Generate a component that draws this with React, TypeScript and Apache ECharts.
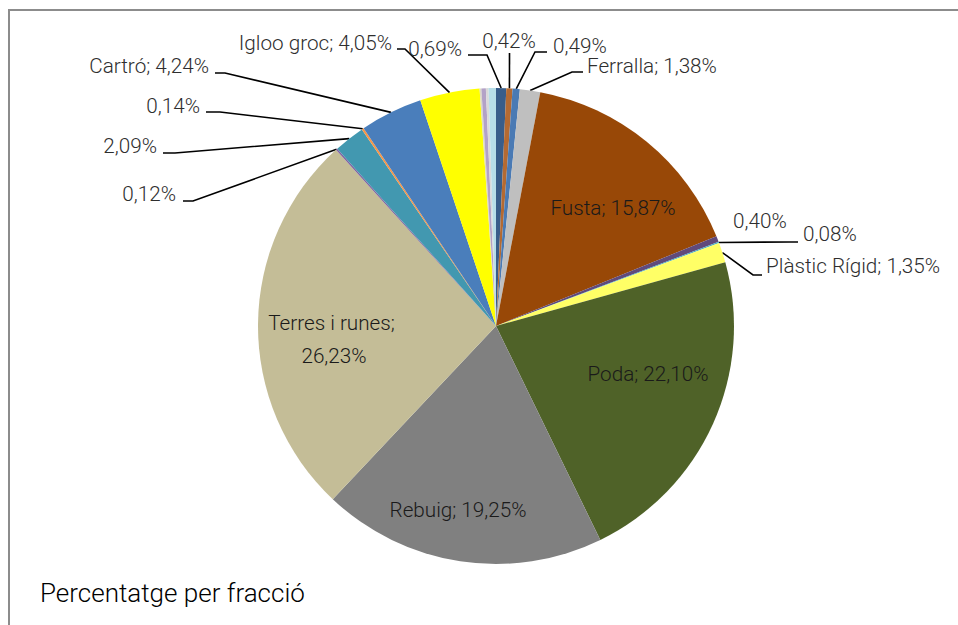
import React, { useEffect, useRef } from "react";
import * as echarts from "echarts";

// Slices, clockwise from 12 o'clock
const sliceNames = [
  "", "", "", "Ferralla", "Fusta", "", "", "Plàstic Rígid", "Poda", "Rebuig",
  "Terres i runes", "", "", "", "Cartró", "Igloo groc", "", "", "", "",
];
const sliceValues = [
  0.69, 0.42, 0.49, 1.38, 15.87, 0.4, 0.08, 1.35, 22.1, 19.25,
  26.23, 0.12, 2.09, 0.14, 4.24, 4.05, 0.12, 0.3, 0.18, 0.5,
];
const sliceColors = [
  "#385D8A", "#B46A32", "#4A7AB4", "#BFBFBF", "#984807", "#604A7B", "#4BACC6", "#FFFF66", "#4F6228", "#808080",
  "#C4BD97", "#8064A2", "#4298B0", "#F79646", "#4A7EBB", "#FFFF00", "#DDD9C3", "#B3A2C7", "#D9D9D9", "#B7DEE8",
];

const titleText = "Percentatge per fracció";

// Label layout (pixel positions of label anchors; line = [labelSideX, lineY, elbowX])
type Place = { x: number; y: number; align: "left" | "right" | "center"; inside?: boolean; line?: [number, number, number] };
const labelPlace: (Place | null)[] = [
  { x: 462, y: 49, align: "right", line: [468, 55, 487] },
  { x: 509, y: 41, align: "center", line: [509.5, 53, 509.5] },
  { x: 553, y: 46, align: "left", line: [547, 52, 535] },
  { x: 587, y: 66, align: "left", line: [583, 72, 572] },
  { x: 613, y: 208, align: "center", inside: true },
  { x: 733, y: 221, align: "left" },
  { x: 803, y: 234, align: "left", line: [798, 242, 790] },
  { x: 766, y: 266, align: "left", line: [762, 275, 753] },
  { x: 648, y: 374, align: "center", inside: true },
  { x: 458, y: 510, align: "center", inside: true },
  { x: 334, y: 339, align: "center", inside: true },
  { x: 176, y: 194, align: "right", line: [183, 201, 193] },
  { x: 157, y: 146, align: "right", line: [163, 153, 175] },
  { x: 200, y: 106, align: "right", line: [206, 112, 220] },
  { x: 209, y: 66, align: "right", line: [215, 73, 225] },
  { x: 392, y: 43, align: "right", line: [397, 49, 405] },
  null, null, null, null,
];

const FONT = "Roboto, 'Liberation Sans', sans-serif";

const fmt = (v: number) => v.toFixed(2).replace(".", ",") + "%";

export default function App() {
  const ref = useRef<HTMLDivElement>(null);
  useEffect(() => {
    if (!ref.current) return;
    const chart = echarts.init(ref.current, undefined, { renderer: "svg" });
    const data = sliceValues.map((v, i) => {
      const p = labelPlace[i];
      return {
        name: sliceNames[i],
        value: v,
        itemStyle: { color: sliceColors[i] },
        label: {
          show: !!p,
          position: p && p.inside ? "inside" : "outside",
          color: p && p.inside ? "#1a1a1a" : "#2e2e2e",
          ...(sliceNames[i] === "Terres i runes"
            ? { width: 145, overflow: "break", lineHeight: 33, align: "center" }
            : {}),
        },
        labelLine: { show: !!(p && p.line) },
      };
    });
    chart.setOption({
      animation: false,
      backgroundColor: "#ffffff",
      title: {
        text: titleText,
        left: 35,
        top: 573,
        textStyle: { fontFamily: FONT, fontSize: 26, fontWeight: 300, color: "#000000", lineHeight: 30 },
      },
      graphic: [
        {
          type: "rect",
          shape: { x: 9, y: 10, width: 1000, height: 700 },
          style: { fill: "none", stroke: "#8C8C8C", lineWidth: 2 },
          silent: true,
        },
      ],
      series: [
        {
          type: "pie",
          center: [496, 326],
          radius: 238,
          startAngle: 90,
          clockwise: true,
          avoidLabelOverlap: false,
          itemStyle: { borderWidth: 0 },
          label: {
            fontFamily: FONT,
            fontSize: 20.7,
            fontWeight: 300,
            formatter: (pr: any) => (pr.name ? `${pr.name}; ${fmt(pr.value)}` : fmt(pr.value)),
          },
          labelLine: {
            lineStyle: { color: "#000000", width: 1.6 },
            length: 10,
            length2: 10,
          },
          labelLayout: (params: any) => {
            const p = labelPlace[params.dataIndex];
            if (!p) return {};
            const res: any = { x: p.x, y: p.y, align: p.align, verticalAlign: "middle" };
            if (p.line && params.labelLinePoints) {
              const edge = params.labelLinePoints[0];
              res.labelLinePoints = [
                [edge[0], edge[1]],
                [p.line[2], p.line[1]],
                [p.line[0], p.line[1]],
              ];
            }
            return res;
          },
          data,
        },
      ],
    });
    return () => chart.dispose();
  }, []);
  return (
    <div
      ref={ref}
      style={{ position: "fixed", left: 0, top: 0, width: 958, height: 625 }}
    />
  );
}
